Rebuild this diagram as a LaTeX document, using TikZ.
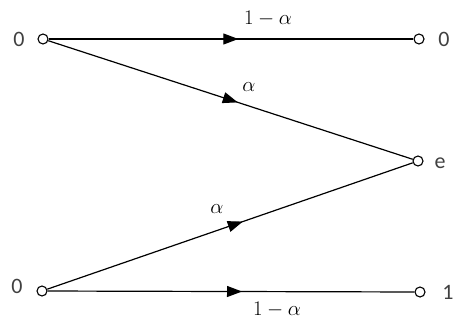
\documentclass[tikz,border=0pt]{standalone}
\usepackage{fontspec}
\setmainfont{Carlito}
\usetikzlibrary{arrows.meta,decorations.markings}
\tikzset{
  port/.style={circle,draw,fill=white,inner sep=0pt,minimum size=10pt,line width=1.1pt},
  sym/.style={text=black!75,font=\fontsize{22}{24}\selectfont,inner sep=0pt},
  prob/.style={font=\fontsize{22}{24}\selectfont,inner sep=0pt},
  chan/.style={line width=1.2pt,postaction={decorate},
    decoration={markings,mark=at position #1 with {\arrow{Triangle[length=15pt,width=11pt]}}}}
}
\begin{document}
\begin{tikzpicture}[x=1pt,y=-1pt]
\useasboundingbox (0,0) rectangle (454,321);
\node[port] (in0) at (43,39) {};
\node[port] (in1) at (42,291) {};
\node[port] (out0) at (419,39) {};
\node[port] (oute) at (418,161) {};
\node[port] (out1) at (420,292) {};
\draw[chan=0.52] (in0) -- (out0);
\draw[chan=0.52] (in0) -- (oute);
\draw[chan=0.535] (in1) -- (oute);
\draw[chan=0.53] (in1) -- (out1);
\node[sym] (tin0) at (19,39) {0};
\node[sym] (tin1) at (17,286) {0};
\node[sym] (tout0) at (444,39) {0};
\node[sym] (toute) at (440,163) {e};
\node[sym] (tout1) at (448,292) {1};
\node[prob] (p1) at (268,19) {$1-\alpha$};
\node[prob] (p2) at (249,87) {$\alpha$};
\node[prob] (p3) at (217,209) {$\alpha$};
\node[prob] (p4) at (277,310) {$1-\alpha$};
\end{tikzpicture}
\end{document}
